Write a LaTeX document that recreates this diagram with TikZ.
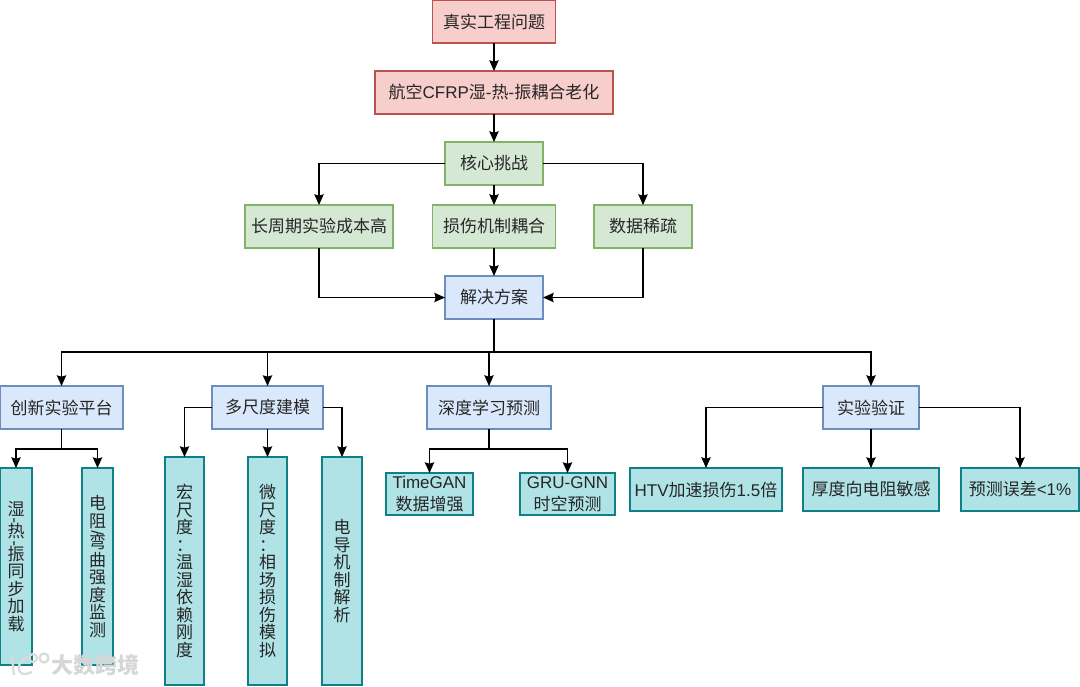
\documentclass[tikz,border=0pt]{standalone}
\usepackage{fontspec}
\setmainfont{Noto Sans CJK SC}
\newfontfamily\latfont{Liberation Sans}
\newcommand{\lat}[1]{{\latfont #1}}
\usetikzlibrary{arrows.meta}
\definecolor{rf}{HTML}{F8CECC}\definecolor{rd}{HTML}{B85450}
\definecolor{gf}{HTML}{D5E8D4}\definecolor{gd}{HTML}{82B366}
\definecolor{bf}{HTML}{DAE8FC}\definecolor{bd}{HTML}{6C8EBF}
\definecolor{tf}{HTML}{B0E3E6}\definecolor{td}{HTML}{0E8088}
\tikzset{
 box/.style={draw,line width=1pt,inner sep=0pt,outer sep=0pt,align=center,text=black!85,
   font=\fontsize{12.75}{16.2}\selectfont},
 redbox/.style={box,fill=rf,draw=rd},
 greenbox/.style={box,fill=gf,draw=gd},
 bluebox/.style={box,fill=bf,draw=bd},
 tealbox/.style={box,fill=tf,draw=td},
 vert/.style={tealbox,font=\fontsize{12.75}{13.15}\selectfont},
 vmark/.style={inner sep=0pt,rotate=90,text=black!85,font=\fontsize{12.75}{13}\latfont},
 link/.style={draw=black,line width=1.05pt,-{Stealth[length=8pt,width=7pt,inset=1pt]}},
 plain/.style={draw=black,line width=1.05pt},
 wm/.style={inner sep=0pt,text=white!84!black,font=\fontsize{16.5}{17}\selectfont\bfseries},
 wmline/.style={draw=white!86!black,line width=1.7pt,fill=none}
}
\begin{document}
\begin{tikzpicture}[x=0.75pt,y=-0.75pt]
\useasboundingbox (0,0) rectangle (1080,686);
\fill[white] (0,0) rectangle (1080,686);
\node[redbox,minimum width=92.25pt,minimum height=32.25pt] (n1) at (494,21.5) {真实工程问题};
\node[redbox,minimum width=178.5pt,minimum height=32.25pt] (n2) at (494,92.5) {航空\lat{CFRP}湿\lat{-}热\lat{-}振耦合老化};
\node[greenbox,minimum width=73.5pt,minimum height=32.25pt] (c) at (494,163.5) {核心挑战};
\node[greenbox,minimum width=111pt,minimum height=32.25pt] (c1) at (319,226.5) {长周期实验成本高};
\node[greenbox,minimum width=92.25pt,minimum height=32.25pt] (c2) at (494,226.5) {损伤机制耦合};
\node[greenbox,minimum width=73.5pt,minimum height=32.25pt] (c3) at (643,226.5) {数据稀疏};
\node[bluebox,minimum width=73.5pt,minimum height=32.25pt] (s) at (494,297.5) {解决方案};
\node[bluebox,minimum width=92.25pt,minimum height=32.25pt] (p1) at (61.5,407.5) {创新实验平台};
\node[bluebox,minimum width=83.25pt,minimum height=32.25pt] (p2) at (267.5,407.5) {多尺度建模};
\node[bluebox,minimum width=93pt,minimum height=32.25pt] (p3) at (489,407.5) {深度学习预测};
\node[bluebox,minimum width=72pt,minimum height=32.25pt] (p4) at (871,407.5) {实验验证};
\node[vert,minimum width=24pt,minimum height=147.75pt] (a1) at (16,566.5) {湿\\[3.8pt]热\\[3.8pt]振\\同\\步\\加\\载};
\node[vmark] (a1d1) at (16,520.5) {-};
\node[vmark] (a1d2) at (16,543.5) {-};
\node[vert,minimum width=23.25pt,minimum height=147.75pt] (a2) at (97.5,566.5) {电\\阻\\[3.2pt]弯\\曲\\强\\度\\监\\测};
\node[vmark] (a2d) at (97.5,533) {/};
\node[vert,minimum width=29.25pt,minimum height=171pt] (b1) at (184.5,571) {宏\\尺\\度\\：\\温\\湿\\依\\赖\\刚\\度};
\node[vert,minimum width=29.25pt,minimum height=171pt] (b2) at (267.5,571) {微\\尺\\度\\：\\相\\场\\损\\伤\\模\\拟};
\node[vert,minimum width=30pt,minimum height=171pt] (b3) at (342,571) {电\\导\\机\\制\\解\\析};
\node[tealbox,minimum width=65.25pt,minimum height=31.5pt] (d1) at (429.5,494) {\lat{TimeGAN}\\数据增强};
\node[tealbox,minimum width=71.25pt,minimum height=31.5pt] (d2) at (567.5,494) {\lat{GRU-GNN}\\时空预测};
\node[tealbox,minimum width=114pt,minimum height=32.25pt] (e1) at (706,489.5) {\lat{HTV}加速损伤\lat{1.5}倍};
\node[tealbox,minimum width=102pt,minimum height=32.25pt] (e2) at (871,489.5) {厚度向电阻敏感};
\node[tealbox,minimum width=88.5pt,minimum height=32.25pt] (e3) at (1020,489.5) {预测误差\lat{<1\%}};

\coordinate (busa) at (494,352);
\coordinate (busb) at (61.5,449);
\coordinate (busc) at (489,449);

\draw[link] (n1) -- (n2);
\draw[link] (n2) -- (c);
\draw[link] (c.west) -| (c1.north);
\draw[link] (c.south) -- (c2.north);
\draw[link] (c.east) -| (c3.north);
\draw[link] (c1.south) |- (s.west);
\draw[link] (c2.south) -- (s.north);
\draw[link] (c3.south) |- (s.east);
\draw[plain] (s.south) -- (busa);
\draw[link] (busa) -| (p1.north);
\draw[link] (busa) -| (p2.north);
\draw[link] (busa) -| (p3.north);
\draw[link] (busa) -| (p4.north);
\draw[plain] (p1.south) -- (busb);
\draw[link] (busb) -| (a1.north);
\draw[link] (busb) -| (a2.north);
\draw[link] (p2.west) -| (b1.north);
\draw[link] (p2.south) -- (b2.north);
\draw[link] (p2.east) -| (b3.north);
\draw[plain] (p3.south) -- (busc);
\draw[link] (busc) -| (d1.north);
\draw[link] (busc) -| (d2.north);
\draw[link] (p4.west) -| (e1.north);
\draw[link] (p4.south) -- (e2.north);
\draw[link] (p4.east) -| (e3.north);

% watermark
\draw[wmline] (12,657) -- (14,675);
\draw[wmline] (28,657) .. controls (14,662) and (16,680) .. (32,672);
\draw[wmline] (33,658) circle (4);
\draw[wmline] (44,658) circle (4.5);
\node[wm] (wmk) at (95,665.5) {大数跨境};
\end{tikzpicture}
\end{document}
